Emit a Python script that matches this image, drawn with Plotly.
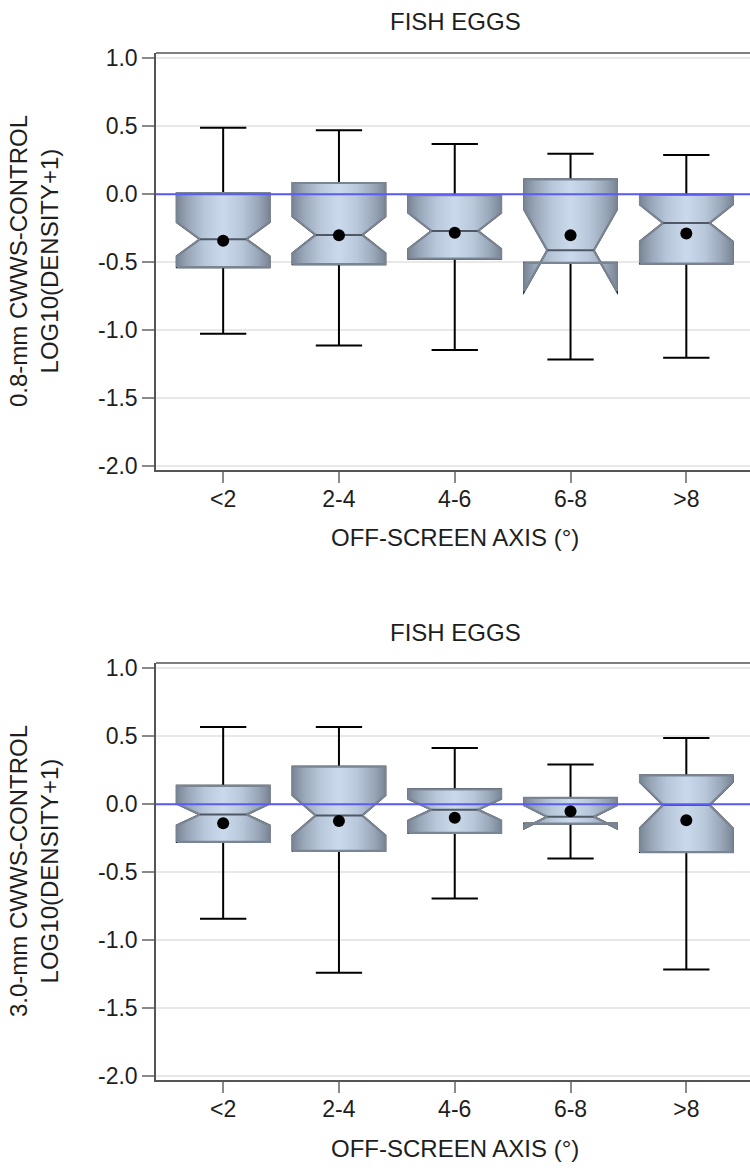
import plotly.graph_objects as go

# ---------------- data ----------------
categories = ["<2", "2-4", "4-6", "6-8", ">8"]

# Panel A: 0.8-mm CWWS - CONTROL
q1_a = [-0.537, -0.515, -0.474, -0.505, -0.510]
med_a = [-0.331, -0.299, -0.270, -0.413, -0.212]
q3_a = [0.008, 0.083, -0.006, 0.109, -0.004]
lo_a = [-1.027, -1.113, -1.147, -1.216, -1.203]
hi_a = [0.490, 0.471, 0.370, 0.299, 0.289]
mean_a = [-0.343, -0.301, -0.284, -0.301, -0.289]
notch_a = [0.125, 0.135, 0.133, 0.300, 0.136]

# Panel B: 3.0-mm CWWS - CONTROL
q1_b = [-0.277, -0.343, -0.211, -0.142, -0.352]
med_b = [-0.076, -0.082, -0.040, -0.092, -0.006]
q3_b = [0.136, 0.277, 0.110, 0.047, 0.212]
lo_b = [-0.843, -1.240, -0.694, -0.400, -1.216]
hi_b = [0.569, 0.569, 0.414, 0.292, 0.488]
mean_b = [-0.140, -0.123, -0.100, -0.051, -0.118]
notch_b = [0.080, 0.148, 0.080, 0.085, 0.170]

y_ticks = [1.0, 0.5, 0.0, -0.5, -1.0, -1.5, -2.0]
y_ticktext = [f"{v:.1f}" for v in y_ticks]

panel_title = "FISH EGGS"
x_title = "OFF-SCREEN AXIS (°)"
y_title_a = "0.8-mm CWWS-CONTROL<br>LOG10(DENSITY+1)"
y_title_b = "3.0-mm CWWS-CONTROL<br>LOG10(DENSITY+1)"

# ---------------- styles ----------------
W, H = 750, 1171
FONT = "Liberation Sans, Arial, sans-serif"
TXT = "#1e1e1e"
BOX_W = 0.8
NOTCH_W = 0.25              # plotly notchwidth
MED_FRAC = 1 - 2 * NOTCH_W  # median half-width relative to box half-width (plotly rule)
GRAD = [[0.0, "#7b8798"], [0.12, "#98a6b8"], [0.3, "#b8c7da"],
        [0.5, "#cad9eb"], [0.7, "#b8c7da"], [0.88, "#98a6b8"], [1.0, "#7b8798"]]
OUTLINE = "#7a8593"
MEDIAN_C = "#4f5864"

xpos = list(range(len(categories)))

fig = go.Figure()


def add_panel(xa, ya, q1, med, q3, lo, hi, mean, notch):
    hw = BOX_W / 2
    # whiskers (black) -- box layer sits below the scatter layer
    fig.add_trace(go.Box(
        x=xpos, q1=q1, median=med, q3=q3, lowerfence=lo, upperfence=hi,
        notched=True, notchspan=notch, notchwidth=NOTCH_W,
        width=BOX_W, whiskerwidth=0.5, boxpoints=False,
        fillcolor="rgba(0,0,0,0)", line=dict(color="black", width=2),
        xaxis=xa, yaxis=ya, showlegend=False, hoverinfo="skip"))
    # gradient-filled notched body with outline (same path as plotly's notched box)
    for i, x in enumerate(xpos):
        ln, un = med[i] - notch[i], med[i] + notch[i]
        px = [x - hw, x - hw, x - hw * MED_FRAC, x - hw, x - hw,
              x + hw, x + hw, x + hw * MED_FRAC, x + hw, x + hw, x - hw]
        py = [q1[i], ln, med[i], un, q3[i], q3[i], un, med[i], ln, q1[i], q1[i]]
        fig.add_trace(go.Scatter(
            x=px, y=py, mode="lines", fill="toself",
            line=dict(color=OUTLINE, width=2.2),
            fillgradient=dict(type="horizontal", colorscale=GRAD,
                              start=x - hw, stop=x + hw),
            xaxis=xa, yaxis=ya, showlegend=False, hoverinfo="skip"))
    # median lines at the notch waist
    mx, my = [], []
    for i, x in enumerate(xpos):
        mx += [x - hw * MED_FRAC, x + hw * MED_FRAC, None]
        my += [med[i], med[i], None]
    fig.add_trace(go.Scatter(
        x=mx, y=my, mode="lines", line=dict(color=MEDIAN_C, width=2),
        xaxis=xa, yaxis=ya, showlegend=False, hoverinfo="skip"))
    # means
    fig.add_trace(go.Scatter(
        x=xpos, y=mean, mode="markers",
        marker=dict(color="black", size=12),
        xaxis=xa, yaxis=ya, showlegend=False, hoverinfo="skip"))


add_panel("x", "y", q1_a, med_a, q3_a, lo_a, hi_a, mean_a, notch_a)
add_panel("x2", "y2", q1_b, med_b, q3_b, lo_b, hi_b, mean_b, notch_b)

x_dom = [156 / W, 1.0]
dom_a = [1 - 470 / H, 1 - 53 / H]
dom_b = [1 - 1080 / H, 1 - 663 / H]

xaxis_common = dict(
    range=[-0.58, 4.55], domain=x_dom, tickvals=xpos, ticktext=categories,
    showline=True, linecolor="#555555", linewidth=1.5,
    ticks="outside", ticklen=11, tickcolor="#8a8a8a", tickwidth=1.5,
    ticklabelstandoff=-3,
    showgrid=False, zeroline=False,
    tickfont=dict(family=FONT, size=23, color=TXT), automargin=False)
yaxis_common = dict(
    range=[-2.03, 1.04], tickvals=y_ticks, ticktext=y_ticktext,
    showline=True, linecolor="#555555", linewidth=1.5,
    ticks="outside", ticklen=12, tickcolor="#8a8a8a", tickwidth=1.5,
    showgrid=True, gridcolor="#e8e8e8", gridwidth=1.5, zeroline=False,
    tickfont=dict(family=FONT, size=23, color=TXT), automargin=False)

fig.update_layout(
    width=W, height=H, margin=dict(l=0, r=0, t=0, b=0),
    paper_bgcolor="white", plot_bgcolor="white", boxmode="overlay",
    xaxis=dict(xaxis_common, anchor="y"),
    yaxis=dict(yaxis_common, domain=dom_a, anchor="x"),
    xaxis2=dict(xaxis_common, anchor="y2"),
    yaxis2=dict(yaxis_common, domain=dom_b, anchor="x2"),
)

# top frame lines and zero reference lines
for xa, ya in (("x", "y"), ("x2", "y2")):
    fig.add_shape(type="line", xref=f"{xa} domain", yref=f"{ya} domain",
                  x0=0, x1=1, y0=1, y1=1, line=dict(color="#555555", width=1.5))
    fig.add_shape(type="line", xref=f"{xa} domain", yref=ya,
                  x0=0, x1=1, y0=0, y1=0, layer="above",
                  line=dict(color="#5b5bf5", width=2))

ann = []
for ty, xy, yt, yc in ((22, 537, y_title_a, 261), (632, 1148, y_title_b, 871)):
    ann.append(dict(text=panel_title, x=455 / W, y=1 - ty / H, xref="paper", yref="paper",
                    showarrow=False, xanchor="center", yanchor="middle",
                    font=dict(family=FONT, size=24, color=TXT)))
    ann.append(dict(text=x_title, x=455 / W, y=1 - xy / H, xref="paper", yref="paper",
                    showarrow=False, xanchor="center", yanchor="middle",
                    font=dict(family=FONT, size=24, color=TXT)))
    ann.append(dict(text=yt, x=34 / W, y=1 - yc / H, xref="paper", yref="paper",
                    showarrow=False, xanchor="center", yanchor="middle", textangle=-90,
                    font=dict(family=FONT, size=24, color=TXT)))
fig.update_layout(annotations=ann)

fig.write_html("out.html")
